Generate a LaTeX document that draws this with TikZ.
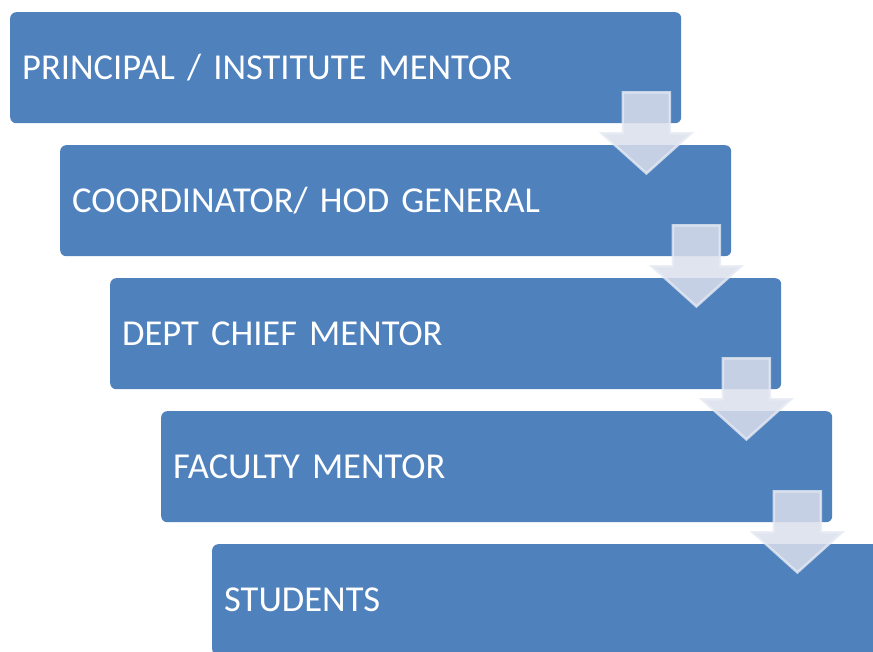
\documentclass[tikz,border=0pt]{standalone}
\usepackage{fontspec}
\setmainfont{Carlito}
\usetikzlibrary{calc}
\definecolor{boxblue}{HTML}{4F81BD}
\definecolor{arrowfill}{HTML}{DBDFEB}
\definecolor{arrowedge}{HTML}{E6EAF3}
\tikzset{
  levelbox/.style={fill=boxblue, draw=none, rounded corners=6pt, anchor=north west,
    minimum width=671pt, minimum height=111pt, text width=647pt, inner xsep=12pt,
    align=left, text=white, font=\fontsize{36.5}{42}\selectfont},
  flowarrow/.style={fill=arrowfill, fill opacity=0.85, draw=arrowedge, draw opacity=0.8,
    line width=2.5pt, line join=miter},
}
% down-pointing block arrow whose shaft top centre is at #1
\newcommand\levelarrow[1]{%
  \draw[flowarrow, shift={(#1)}] (-23.5,0) -- (23.5,0) -- (23.5,41) -- (44.5,41)
    -- (0,81) -- (-44.5,41) -- (-23.5,41) -- cycle;}
\begin{document}
\begin{tikzpicture}[x=1pt, y=-1pt]
  \useasboundingbox (0,0) rectangle (873,651);
  \clip (0,0) rectangle (873,651);
  \node[levelbox] (b1) at (10,12)  {PRINCIPAL / INSTITUTE MENTOR};
  \node[levelbox] (b2) at (60,145) {COORDINATOR/ HOD GENERAL};
  \node[levelbox] (b3) at (110,278) {DEPT CHIEF MENTOR};
  \node[levelbox] (b4) at (161,411) {FACULTY MENTOR};
  \node[levelbox] (b5) at (212,544) {STUDENTS};
  \coordinate (a1) at ($(b1.south east)+(-35,-31)$);
  \coordinate (a2) at ($(b2.south east)+(-35,-31)$);
  \coordinate (a3) at ($(b3.south east)+(-35,-31)$);
  \coordinate (a4) at ($(b4.south east)+(-35,-31)$);
  \levelarrow{a1}
  \levelarrow{a2}
  \levelarrow{a3}
  \levelarrow{a4}
\end{tikzpicture}
\end{document}
